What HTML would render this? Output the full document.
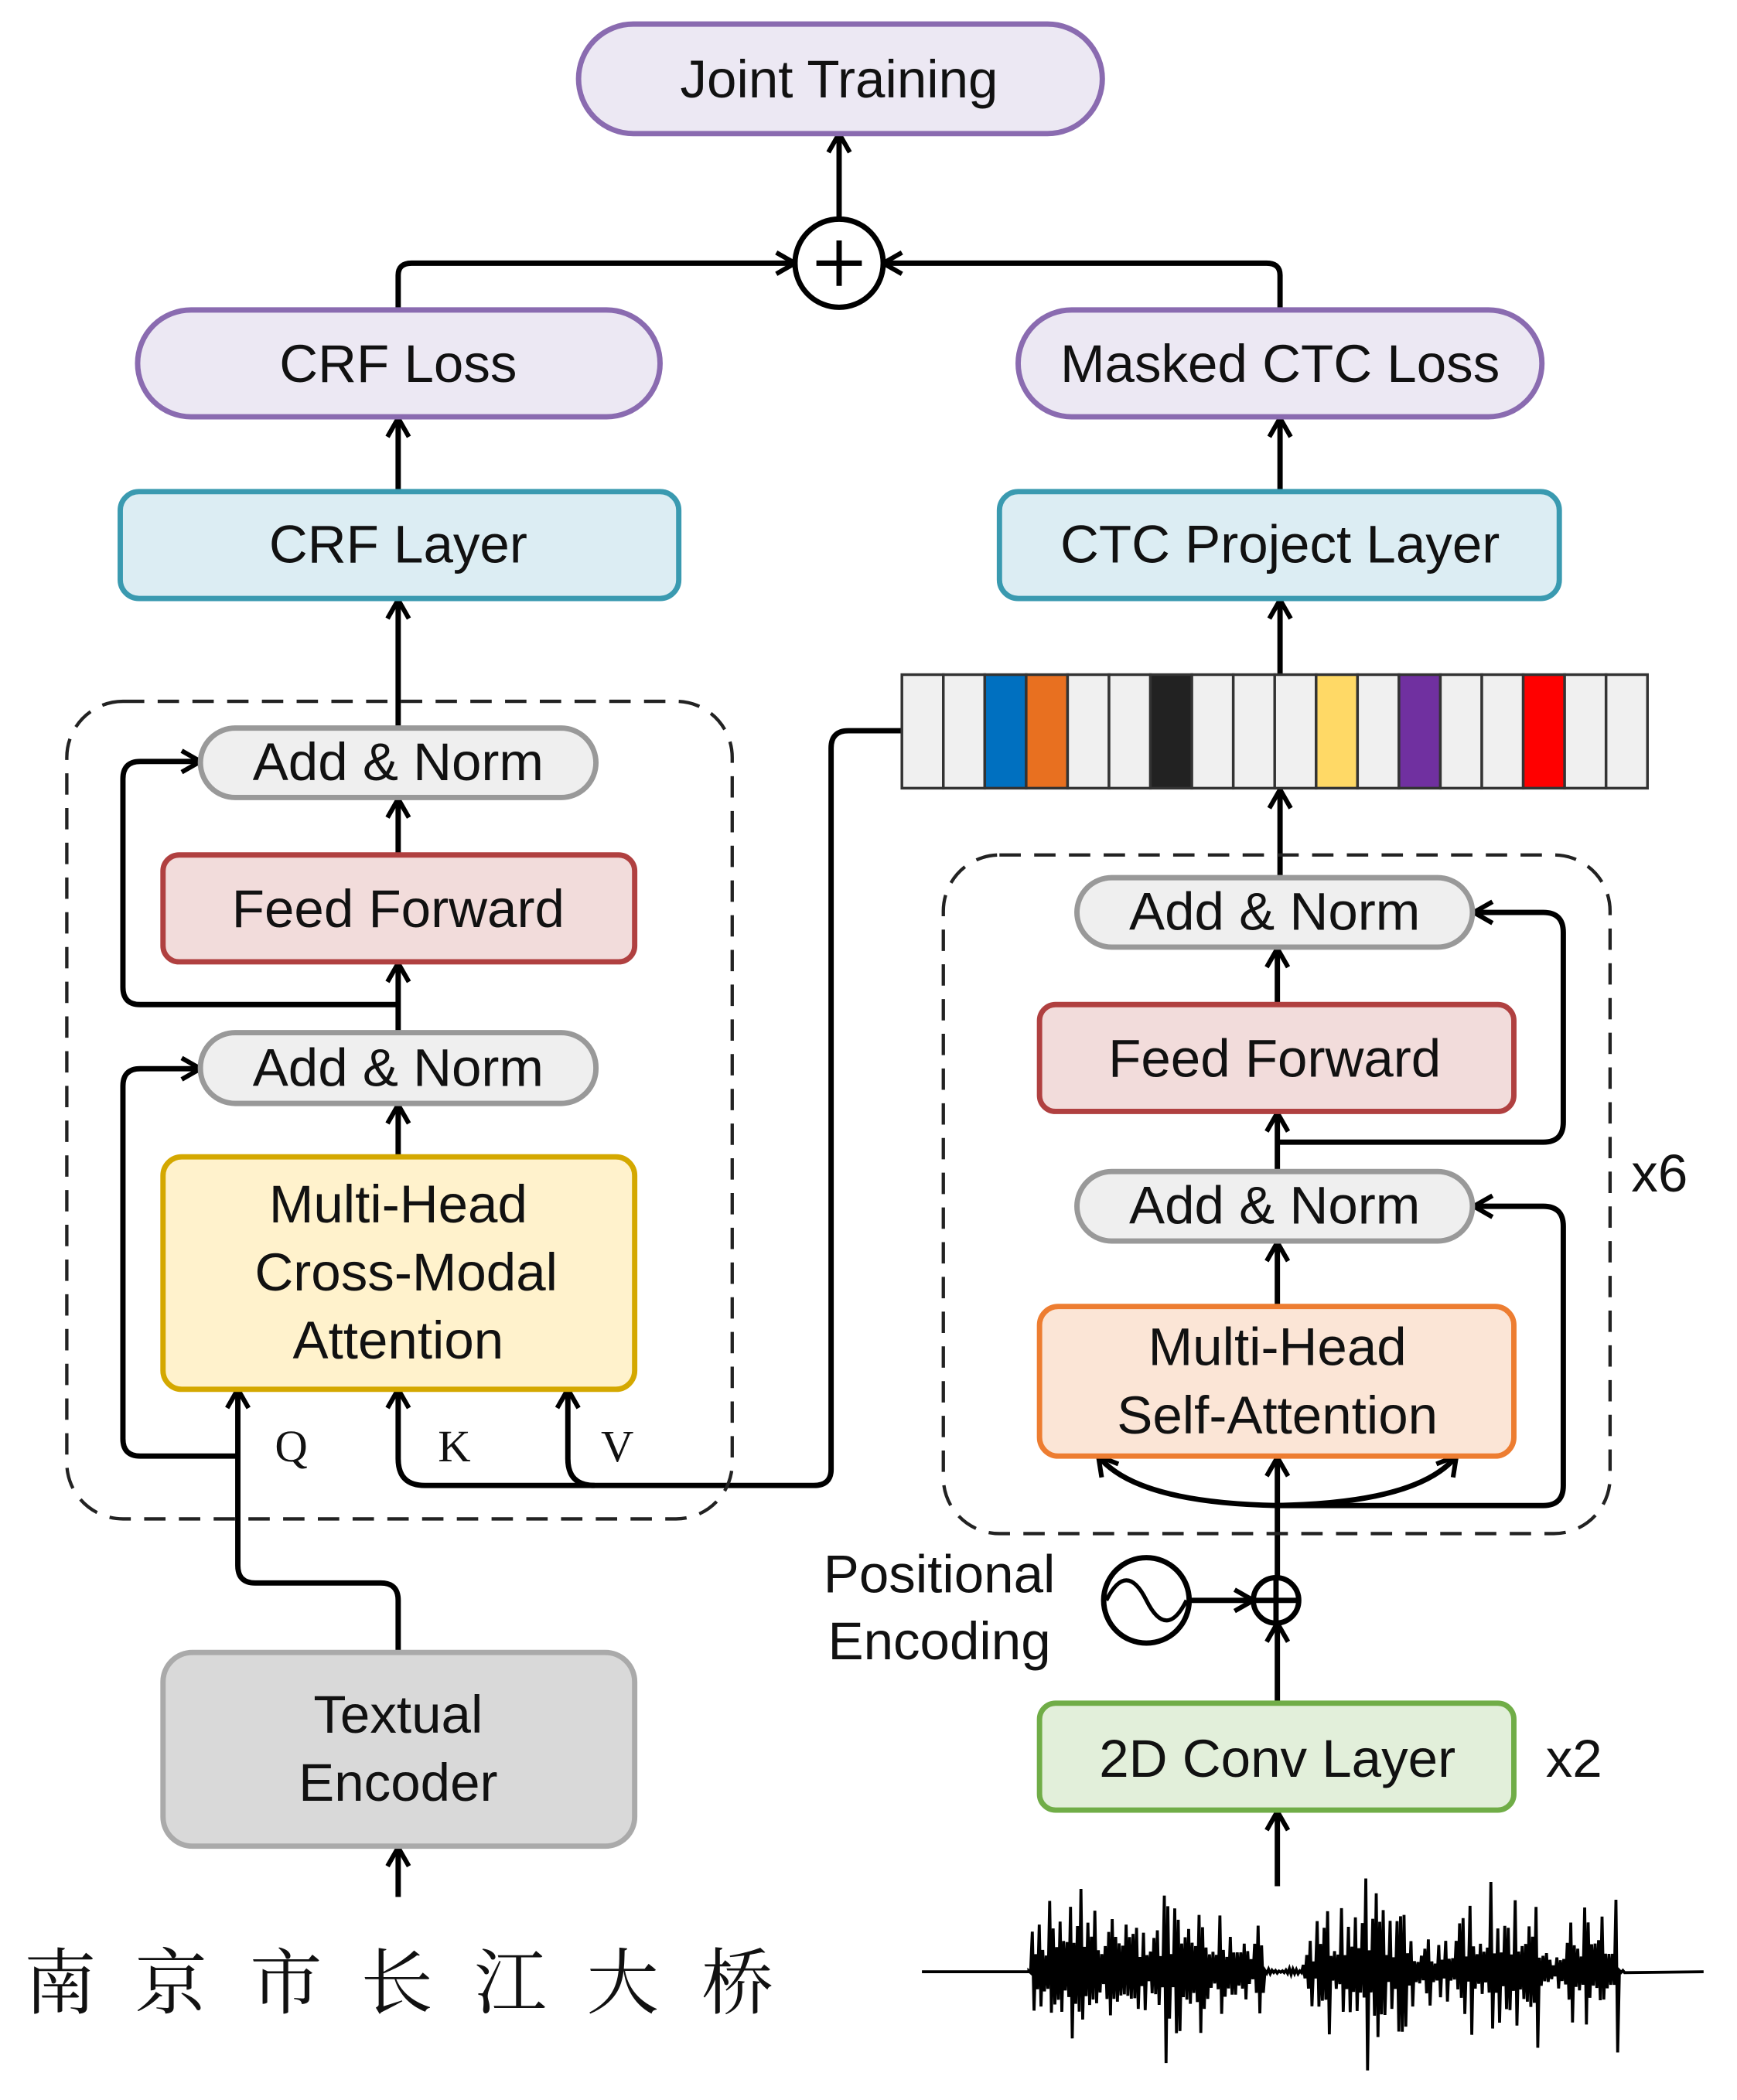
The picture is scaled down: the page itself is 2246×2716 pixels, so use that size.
<!DOCTYPE html>
<html><head><meta charset="utf-8"><style>
html,body{margin:0;padding:0;background:#fff}
svg{display:block}
text{font-family:"Liberation Sans","DejaVu Sans",sans-serif;fill:#111}
text.serif{font-family:"Liberation Serif","Noto Serif CJK SC",serif}
</style></head><body>
<svg width="2246" height="2716" viewBox="0 0 1300 1572" xmlns="http://www.w3.org/2000/svg">
<defs>
<marker id="a" viewBox="0 0 20 20" refX="17" refY="10" markerWidth="20" markerHeight="20" markerUnits="userSpaceOnUse" orient="auto">
<polyline points="3,2 17,10 3,18" fill="none" stroke="#000" stroke-width="3.5"/>
</marker>
</defs>
<g stroke="#000" stroke-width="4" fill="none" marker-end="url(#a)">
<line x1="628" y1="164" x2="628" y2="100"/>
<path d="M298 232 V206 Q298 197 308 197 H595"/>
<path d="M958 232 V206 Q958 197 948 197 H661"/>
<line x1="298" y1="368" x2="298" y2="313"/>
<line x1="958" y1="368" x2="958" y2="313"/>
<line x1="298" y1="545" x2="298" y2="449"/>
<line x1="958" y1="505" x2="958" y2="449"/>
<line x1="298" y1="640" x2="298" y2="598"/>
<line x1="298" y1="773" x2="298" y2="721"/>
<line x1="298" y1="866" x2="298" y2="827"/>
<path d="M298 752 H105 Q92 752 92 739 V583 Q92 570 105 570 H150"/>
<path d="M178 1090 H105 Q92 1090 92 1077 V813 Q92 800 105 800 H150"/>
<path d="M298 1237 V1198 Q298 1185 285 1185 H191 Q178 1185 178 1172 V1040"/>
<path d="M675 547 H635 Q622 547 622 560 V1100 Q622 1112 609 1112 H445 Q425 1112 425 1092 V1040"/>
<path d="M445 1112 H318 Q298 1112 298 1092 V1040"/>
<line x1="298" y1="1420" x2="298" y2="1383"/>
<line x1="958" y1="657" x2="958" y2="591"/>
<line x1="956" y1="752" x2="956" y2="710"/>
<line x1="956" y1="877" x2="956" y2="833"/>
<line x1="956" y1="978" x2="956" y2="930"/>
<path d="M956 855 H1155 Q1170 855 1170 840 V698 Q1170 683 1155 683 H1103"/>
<path d="M956 1127 H1155 Q1170 1127 1170 1112 V918 Q1170 903 1155 903 H1103"/>
<line x1="956" y1="1182" x2="956" y2="1091"/>
<path d="M956 1127 Q850 1125 822 1090"/>
<path d="M956 1127 Q1062 1125 1090 1090"/>
<line x1="890" y1="1198" x2="938" y2="1198"/>
<line x1="956" y1="1275" x2="956" y2="1215"/>
<line x1="956" y1="1412" x2="956" y2="1356"/>
</g>
<circle cx="628" cy="197" r="33" fill="#fff" stroke="#000" stroke-width="4"/>
<path d="M628 180 V214 M611 197 H645" stroke="#000" stroke-width="4"/>
<rect x="50" y="525" width="498" height="612" rx="42" fill="none" stroke="#222" stroke-width="2.5" stroke-dasharray="16 10"/>
<rect x="706" y="640" width="499" height="508" rx="42" fill="none" stroke="#222" stroke-width="2.5" stroke-dasharray="16 10"/>
<g stroke-width="4">
<rect x="433" y="18" width="392" height="82" rx="41" fill="#ece8f3" stroke="#8a6bb0"/>
<rect x="103" y="232" width="391" height="80" rx="40" fill="#ece8f3" stroke="#8a6bb0"/>
<rect x="762" y="232" width="392" height="80" rx="40" fill="#ece8f3" stroke="#8a6bb0"/>
<rect x="90" y="368" width="418" height="80" rx="14" fill="#dcedf3" stroke="#3a9ab0"/>
<rect x="748" y="368" width="419" height="80" rx="14" fill="#dcedf3" stroke="#3a9ab0"/>
<rect x="150" y="545" width="296" height="52" rx="26" fill="#efefef" stroke="#999"/>
<rect x="122" y="640" width="353" height="80" rx="12" fill="#f2dcdb" stroke="#b04040"/>
<rect x="150" y="773" width="296" height="53" rx="26" fill="#efefef" stroke="#999"/>
<rect x="122" y="866" width="353" height="174" rx="14" fill="#fff2cc" stroke="#d4a800"/>
<rect x="122" y="1237" width="353" height="145" rx="22" fill="#d9d9d9" stroke="#aaa"/>
<rect x="806" y="657" width="296" height="52" rx="26" fill="#efefef" stroke="#999"/>
<rect x="778" y="752" width="355" height="80" rx="12" fill="#f2dcdb" stroke="#b04040"/>
<rect x="806" y="877" width="296" height="52" rx="26" fill="#efefef" stroke="#999"/>
<rect x="778" y="978" width="355" height="112" rx="14" fill="#fbe5d6" stroke="#ed7d31"/>
<rect x="778" y="1275" width="355" height="80" rx="12" fill="#e2efda" stroke="#70ad47"/>
</g>
<g stroke="#333" stroke-width="2">
<rect x="675" y="505" width="31" height="85" fill="#f0f0f0"/>
<rect x="706" y="505" width="31" height="85" fill="#f0f0f0"/>
<rect x="737" y="505" width="31" height="85" fill="#0070c0"/>
<rect x="768" y="505" width="31" height="85" fill="#e87020"/>
<rect x="799" y="505" width="31" height="85" fill="#f0f0f0"/>
<rect x="830" y="505" width="31" height="85" fill="#f0f0f0"/>
<rect x="861" y="505" width="31" height="85" fill="#222"/>
<rect x="892" y="505" width="31" height="85" fill="#f0f0f0"/>
<rect x="923" y="505" width="31" height="85" fill="#f0f0f0"/>
<rect x="954" y="505" width="31" height="85" fill="#f0f0f0"/>
<rect x="985" y="505" width="31" height="85" fill="#ffd966"/>
<rect x="1016" y="505" width="31" height="85" fill="#f0f0f0"/>
<rect x="1047" y="505" width="31" height="85" fill="#7030a0"/>
<rect x="1078" y="505" width="31" height="85" fill="#f0f0f0"/>
<rect x="1109" y="505" width="31" height="85" fill="#f0f0f0"/>
<rect x="1140" y="505" width="31" height="85" fill="#ff0000"/>
<rect x="1171" y="505" width="31" height="85" fill="#f0f0f0"/>
<rect x="1202" y="505" width="31" height="85" fill="#f0f0f0"/>
</g>
<circle cx="858" cy="1198" r="32" fill="#fff" stroke="#000" stroke-width="4"/>
<path d="M828 1198 Q843 1168 858 1198 T888 1198" fill="none" stroke="#000" stroke-width="3"/>
<circle cx="955" cy="1198" r="17" fill="none" stroke="#000" stroke-width="4"/>
<path d="M938 1198 H972 M955 1181 V1215" stroke="#000" stroke-width="4"/>
<path id="wave" fill="none" stroke="#000" stroke-width="2.2" d=""/>
<script>
(function(){var s=12345;function r(){s=(s*1103515245+12345)%2147483648;return s/2147483648;}
var d="M690 1476 L770 1476";
function env(x){
 if(x<772)return 2;
 if(x<945)return 20+55*Math.abs(Math.sin((x-772)/173*Math.PI*2.2))+20;
 if(x<975)return 3;
 if(x<1210)return 15+55*Math.abs(Math.sin((x-975)/235*Math.PI*2.5))+15;
 return 2;}
for(var x=770;x<1215;x+=2.6){var a=env(x)*(0.15+0.85*r()*r());d+=" L"+x.toFixed(1)+" "+(1476-a).toFixed(1)+" L"+(x+1.3).toFixed(1)+" "+(1476+a*(0.5+0.7*r())).toFixed(1);}
d+=" L1275 1476";document.getElementById("wave").setAttribute("d",d);})();
</script>
<g font-size="40" text-anchor="middle">
<text x="628" y="73">Joint Training</text>
<text x="298" y="286">CRF Loss</text>
<text x="958" y="286">Masked CTC Loss</text>
<text x="298" y="421">CRF Layer</text>
<text x="958" y="421">CTC Project Layer</text>
<text x="298" y="584">Add &amp; Norm</text>
<text x="298" y="694">Feed Forward</text>
<text x="298" y="813">Add &amp; Norm</text>
<text x="298" y="915">Multi-Head</text>
<text x="304" y="966">Cross-Modal</text>
<text x="298" y="1017">Attention</text>
<text x="298" y="1297">Textual</text>
<text x="298" y="1348">Encoder</text>
<text x="954" y="696">Add &amp; Norm</text>
<text x="954" y="806">Feed Forward</text>
<text x="954" y="916">Add &amp; Norm</text>
<text x="956" y="1022">Multi-Head</text>
<text x="956" y="1073">Self-Attention</text>
<text x="703" y="1192">Positional</text>
<text x="703" y="1242">Encoding</text>
<text x="956" y="1330">2D Conv Layer</text>
<text x="1178" y="1330">x2</text>
<text x="1242" y="892">x6</text>
</g>
<g font-size="34" text-anchor="middle">
<text class="serif" x="218" y="1094">Q</text>
<text class="serif" x="340" y="1094">K</text>
<text class="serif" x="462" y="1094">V</text>
</g>
<g font-size="54" text-anchor="middle">
<text class="serif" x="45" y="1503">南</text>
<text class="serif" x="128" y="1503">京</text>
<text class="serif" x="214" y="1503">市</text>
<text class="serif" x="297" y="1503">长</text>
<text class="serif" x="382" y="1503">江</text>
<text class="serif" x="466" y="1503">大</text>
<text class="serif" x="552" y="1503">桥</text>
</g>
</svg>
</body></html>
